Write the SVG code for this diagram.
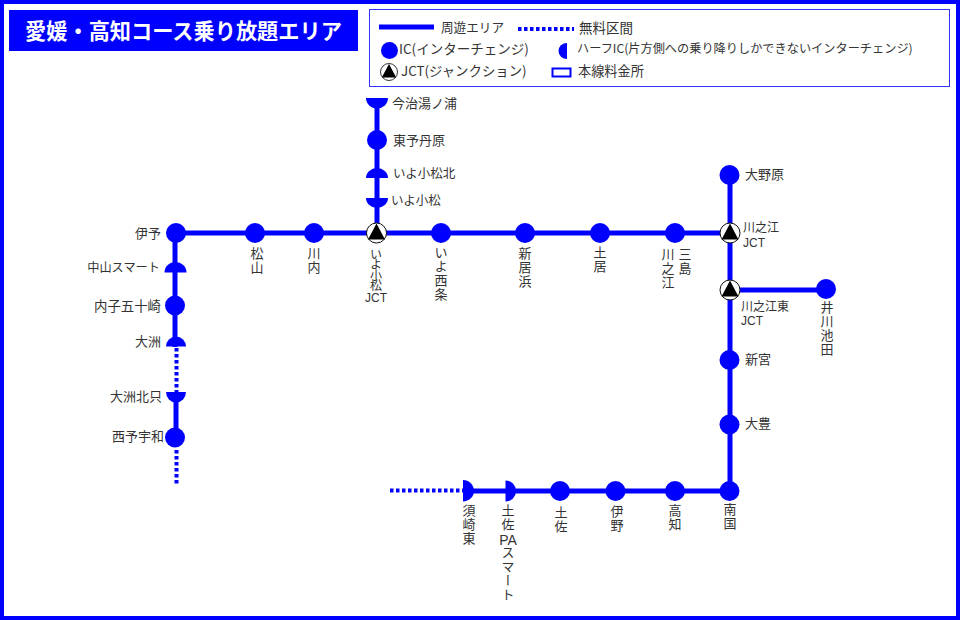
<svg xmlns="http://www.w3.org/2000/svg" width="960" height="620" viewBox="0 0 960 620">
<style>
text{font-family:"Noto Sans CJK JP","Liberation Sans",sans-serif;font-size:13px;fill:#333}
.l{fill:none;stroke:#00f;stroke-width:5}
.d{fill:none;stroke:#00f;stroke-width:4;stroke-dasharray:3.500 2.500}
.n{fill:#00f}
.e{text-anchor:end}
.m{text-anchor:middle}
.v{writing-mode:vertical-rl;text-orientation:upright;letter-spacing:1px}
.s{font-size:12px}
.t{font-family:"Liberation Sans",sans-serif;font-size:12px}
</style>
<defs>
<g id="j"><circle r="10" fill="#fff" stroke="#111" stroke-width="1"/><path d="M0-9.500L8.500 6.500H-8.500Z" fill="#000"/></g>
</defs>
<rect x="2" y="2" width="956" height="616" fill="#fff" stroke="#00f" stroke-width="4"/>
<g id="title"><rect x="9" y="10" width="349" height="41" fill="#00f"/><text x="183.500" y="39" class="m" style="font-size:21.200px;font-weight:700;fill:#fff">愛媛・高知コース乗り放題エリア</text></g>
<g id="legend">
<rect x="369.500" y="9.500" width="580" height="77" fill="#fff" stroke="#33f"/>
<path class="l" d="M379 27H434"/><path class="d" d="M518 29H574"/>
<circle class="n" cx="389.500" cy="50.500" r="8.500"/><path class="n" d="M567 43V59A8.500 8 0 0 1 567 43Z"/>
<use href="#j" transform="translate(389 72) scale(.85)"/>
<rect x="552.500" y="68.500" width="18" height="8" fill="#fff" stroke="#00f" stroke-width="2"/>
<text x="441" y="32" style="font-size:12.600px">周遊エリア</text><text x="579" y="33" style="font-size:13.500px">無料区間</text>
<text x="399" y="54" style="font-size:13.500px">IC(インターチェンジ)</text><text x="577" y="53" style="font-size:12.200px">ハーフIC(片方側への乗り降りしかできないインターチェンジ)</text>
<text x="401" y="76" style="font-size:13.400px">JCT(ジャンクション)</text><text x="578" y="76" style="font-size:13.200px">本線料金所</text>
</g>
<g id="connectors">
<path class="l" d="M176 233H730M377 100V233M730 175V491M730 290H826M463 491H730M175 233V347M176 392V437"/>
<path class="d" d="M176.500 348V392M176.500 450V485M390 490.500H463"/>
</g>
<g id="imabari"><path class="n" d="M366 98H388A11 10.500 0 0 1 366 98Z"/><text x="392" y="108">今治湯ノ浦</text></g>
<g id="toyotanbara"><circle class="n" cx="377" cy="140" r="10"/><text x="393" y="145">東予丹原</text></g>
<g id="komatsukita"><path class="n" d="M366 178H388A11 10 0 0 0 366 178Z"/><text x="393" y="178" style="font-size:12.500px">いよ小松北</text></g>
<g id="komatsu"><path class="n" d="M366 198H388A11 10 0 0 1 366 198Z"/><text x="391" y="205" style="font-size:12.500px">いよ小松</text></g>
<g id="iyo"><circle class="n" cx="176" cy="233" r="10"/><text x="161" y="238" class="e">伊予</text></g>
<g id="nakayama"><path class="n" d="M164.500 272.500H186.500A11 10.500 0 0 0 164.500 272.500Z"/><text x="160" y="272" class="e" style="font-size:12.200px">中山スマート</text></g>
<g id="uchiko"><circle class="n" cx="175" cy="305.500" r="10"/><text x="161" y="311" class="e" style="font-size:13.400px">内子五十崎</text></g>
<g id="ozu"><path class="n" d="M166 346.500H186A10 10 0 0 0 166 346.500Z"/><text x="161" y="346" class="e">大洲</text></g>
<g id="ozukita"><path class="n" d="M166 392H186A10 10.500 0 0 1 166 392Z"/><text x="162" y="401" class="e">大洲北只</text></g>
<g id="seiyo"><circle class="n" cx="175" cy="437.500" r="10"/><text x="164" y="441" class="e">西予宇和</text></g>
<g id="matsuyama"><circle class="n" cx="255" cy="233" r="10"/><text class="v" x="257" y="247">松山</text></g>
<g id="kawauchi"><circle class="n" cx="314" cy="233" r="10"/><text class="v" x="314" y="247">川内</text></g>
<g id="komatsujct"><use href="#j" x="376.500" y="233"/><text class="v" x="376" y="248" style="font-size:12px;letter-spacing:-1.500px">いよ小松</text><text class="m t" x="376" y="302">JCT</text></g>
<g id="saijo"><circle class="n" cx="441" cy="233" r="10"/><text class="v" x="441" y="246">いよ西条</text></g>
<g id="niihama"><circle class="n" cx="525" cy="233" r="10"/><text class="v" x="525" y="247">新居浜</text></g>
<g id="doi"><circle class="n" cx="600" cy="233" r="10"/><text class="v" x="600" y="246">土居</text></g>
<g id="mishima"><circle class="n" cx="675" cy="233" r="10"/><text class="v" x="668" y="248">川之江</text><text class="v" x="685" y="248">三島</text></g>
<g id="onohara"><circle class="n" cx="729.500" cy="175" r="10"/><text x="745" y="179">大野原</text></g>
<g id="kawanoejct"><use href="#j" x="730" y="233"/><text class="s" x="743" y="232">川之江</text><text class="t" x="743" y="246.500">JCT</text></g>
<g id="kawanoehigashi"><use href="#j" x="730" y="290"/><text class="s" x="741" y="310.500">川之江東</text><text class="t" x="741" y="325">JCT</text></g>
<g id="ikawa"><circle class="n" cx="826" cy="289" r="10"/><text class="v" x="827" y="301">井川池田</text></g>
<g id="shingu"><circle class="n" cx="729.500" cy="360" r="10"/><text x="745" y="364">新宮</text></g>
<g id="otoyo"><circle class="n" cx="729.500" cy="424.500" r="10"/><text x="745" y="428">大豊</text></g>
<g id="nankoku"><circle class="n" cx="729.500" cy="491" r="10"/><text class="v" x="730" y="503">南国</text></g>
<g id="kochi"><circle class="n" cx="675" cy="491" r="10"/><text class="v" x="675" y="504">高知</text></g>
<g id="ino"><circle class="n" cx="615.500" cy="491" r="10"/><text class="v" x="617" y="505">伊野</text></g>
<g id="tosa"><circle class="n" cx="560" cy="491" r="10"/><text class="v" x="561" y="506">土佐</text></g>
<g id="tosapa"><path class="n" d="M505.500 480.500V501.500A10.500 10.500 0 0 0 505.500 480.500Z"/><text class="v" x="508" y="504">土佐</text><text class="m t" x="508" y="545" style="font-size:14px">PA</text><text class="v" x="508" y="546">スマート</text></g>
<g id="susaki"><path class="n" d="M463 480V501.500A11 10.750 0 0 0 463 480Z"/><text class="v" x="469" y="504">須崎東</text></g>
</svg>
